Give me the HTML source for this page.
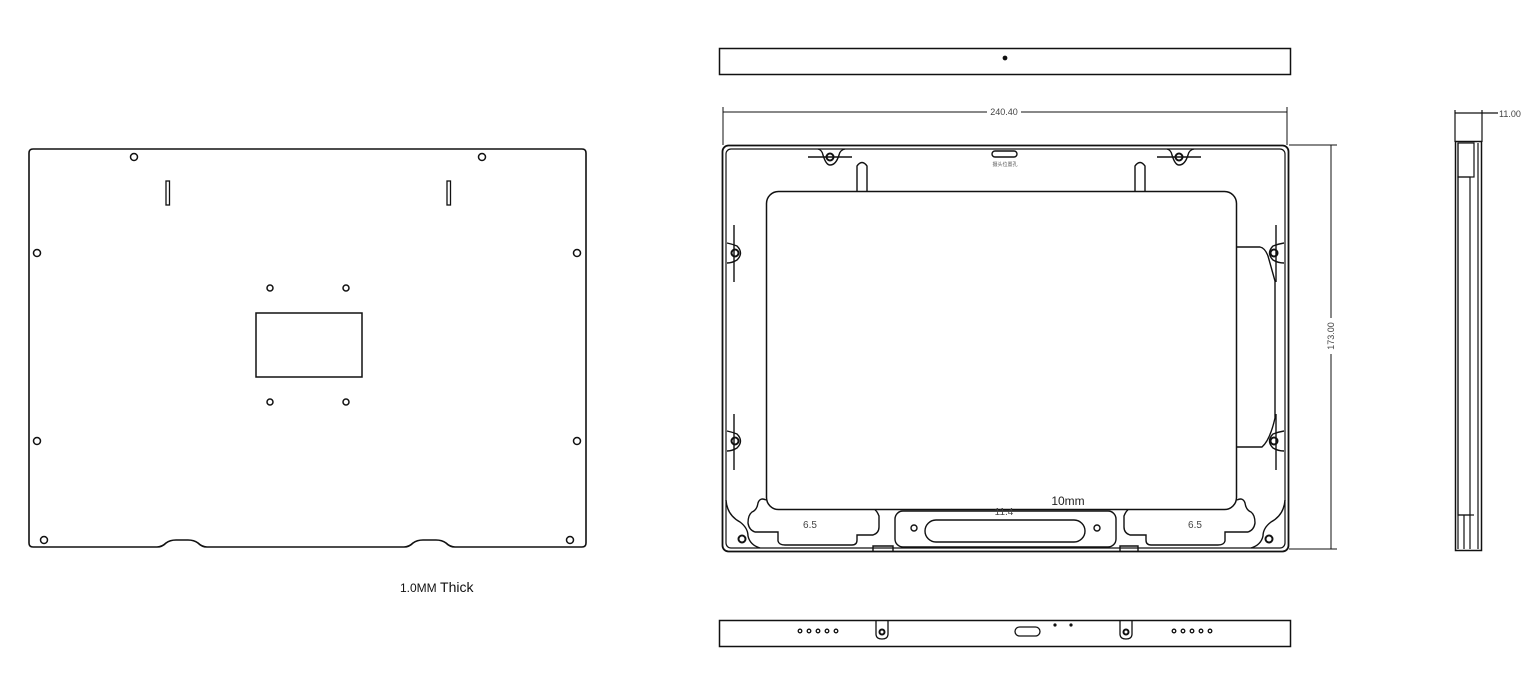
<!DOCTYPE html>
<html><head><meta charset="utf-8"><style>
html,body{margin:0;padding:0;background:#fff;}
svg{display:block;}
text{font-family:"Liberation Sans","Noto Sans CJK SC",sans-serif;}
</style></head><body>
<svg width="1523" height="688" viewBox="0 0 1523 688" xmlns="http://www.w3.org/2000/svg" fill="none" stroke="#111" stroke-width="1.6">
<!-- LEFT PLATE -->
<path d="M33,149 H582 Q586,149 586,153 V543 Q586,547 582,547 H455 Q450,547 446,543 Q442,540 436,540 H423 Q417,540 413,543 Q409,547 404,547 H207 Q202,547 198,543 Q194,540 188,540 H176 Q170,540 166,543 Q162,547 157,547 H33 Q29,547 29,543 V153 Q29,149 33,149 Z"/>
<g stroke-width="1.5">
<circle cx="134" cy="157" r="3.5"/><circle cx="482" cy="157" r="3.5"/>
<circle cx="37" cy="253" r="3.5"/><circle cx="577" cy="253" r="3.5"/>
<circle cx="37" cy="441" r="3.5"/><circle cx="577" cy="441" r="3.5"/>
<circle cx="44" cy="540" r="3.5"/><circle cx="570" cy="540" r="3.5"/>
<circle cx="270" cy="288" r="3"/><circle cx="346" cy="288" r="3"/>
<circle cx="270" cy="402" r="3"/><circle cx="346" cy="402" r="3"/>
</g>
<rect x="166" y="181" width="3.5" height="24" stroke-width="1.3"/>
<rect x="447" y="181" width="3.5" height="24" stroke-width="1.3"/>
<rect x="256" y="313" width="106" height="64" stroke-width="1.5"/>
<text x="400" y="592" font-size="12" fill="#111" stroke="none">1.0MM <tspan font-size="14">Thick</tspan></text>

<!-- TOP STRIP -->
<rect x="719.5" y="48.5" width="571" height="26" stroke-width="1.5"/>
<circle cx="1005" cy="58" r="1.6" fill="#111"/>

<!-- DIMENSIONS -->
<g stroke-width="1">
<line x1="723" y1="107" x2="723" y2="145"/><line x1="1287" y1="107" x2="1287" y2="145"/>
<line x1="723" y1="112" x2="987" y2="112"/><line x1="1021" y1="112" x2="1287" y2="112"/>
<line x1="1289" y1="145" x2="1337" y2="145"/><line x1="1289" y1="549" x2="1337" y2="549"/>
<line x1="1331" y1="145" x2="1331" y2="318"/><line x1="1331" y1="354" x2="1331" y2="549"/>
</g>
<text x="1004" y="115" font-size="9" fill="#444" stroke="none" text-anchor="middle">240.40</text>
<text transform="translate(1334,336) rotate(-90)" font-size="9" fill="#444" stroke="none" text-anchor="middle">173.00</text>

<!-- FRONT VIEW -->
<rect x="722.5" y="145.5" width="566" height="406" rx="6" stroke-width="1.8"/>
<rect x="726" y="149" width="559" height="399" rx="5" stroke-width="1.2"/>
<rect x="766.5" y="191.5" width="470" height="318" rx="12" stroke-width="1.5"/>
<path d="M857,191 V166 Q862,159 867,166 V191" stroke-width="1.4"/>
<path d="M1135,191 V166 Q1140,159 1145,166 V191" stroke-width="1.4"/>
<g stroke-width="1.4">
<line x1="808" y1="157" x2="852" y2="157"/><path d="M818,149 Q822,150 823,155 Q826,165 830,165 Q836,165 839,155 Q840,150 845,149"/>
<circle cx="830" cy="157" r="3.5" stroke-width="2"/>
<line x1="1157" y1="157" x2="1201" y2="157"/><path d="M1167,149 Q1171,150 1172,155 Q1175,165 1179,165 Q1185,165 1188,155 Q1189,150 1194,149"/>
<circle cx="1179" cy="157" r="3.5" stroke-width="2"/>
</g>
<rect x="992" y="151" width="25" height="6" rx="3" stroke-width="1.4"/>
<text x="1005" y="166" font-size="5" fill="#555" stroke="none" text-anchor="middle">摄头位置孔</text>
<g stroke-width="1.4">
<line x1="734" y1="225" x2="734" y2="282"/><path d="M727,243 Q732,244 737,246 Q744,253 737,260 Q732,263 727,263"/>
<circle cx="735" cy="253" r="3.5" stroke-width="2"/>
<line x1="734" y1="414" x2="734" y2="470"/><path d="M727,431 Q732,432 737,434 Q744,441 737,448 Q732,451 727,451"/>
<circle cx="735" cy="441" r="3.5" stroke-width="2"/>
<line x1="1276" y1="225" x2="1276" y2="282"/><path d="M1284,243 Q1278,244 1273,246 Q1266,253 1273,260 Q1278,263 1284,263"/>
<circle cx="1274" cy="253" r="3.5" stroke-width="2"/>
<line x1="1276" y1="414" x2="1276" y2="470"/><path d="M1284,431 Q1278,432 1273,434 Q1266,441 1273,448 Q1278,451 1284,451"/>
<circle cx="1274" cy="441" r="3.5" stroke-width="2"/>
<path d="M1237,247 H1260 Q1265,248 1268,256 L1275,281 V418 Q1270,440 1262,447 H1237"/>
</g>
<g stroke-width="1.4">
<path d="M766,500 Q760,497 758,503 Q757,510 752,512 Q748,515 748,523 Q749,530 755,532 H778 V541 Q779,545 785,545 H852 Q857,545 857,540 V535 H873 Q879,533 879,527 V516 Q877,511 875,510"/>
<path d="M1237,500 Q1243,497 1245,503 Q1246,510 1251,512 Q1255,515 1255,523 Q1254,530 1248,532 H1225 V541 Q1224,545 1218,545 H1151 Q1146,545 1146,540 V535 H1130 Q1124,533 1124,527 V516 Q1126,511 1128,510"/>
<path d="M726,500 Q727,515 740,522 Q748,528 748,536 Q750,545 760,548"/>
<path d="M1285,500 Q1284,515 1271,522 Q1263,528 1263,536 Q1261,545 1251,548"/>
<rect x="895" y="511" width="221" height="36" rx="8"/>
<rect x="925" y="520" width="160" height="22" rx="11"/>
<circle cx="914" cy="528" r="3"/><circle cx="1097" cy="528" r="3"/>
<path d="M873,551 V546 H893 V551"/><path d="M1120,551 V546 H1138 V551"/>
</g>
<circle cx="742" cy="539" r="3.5" stroke-width="2"/>
<circle cx="1269" cy="539" r="3.5" stroke-width="2"/>
<text x="810" y="528" font-size="10" fill="#444" stroke="none" text-anchor="middle">6.5</text>
<text x="1195" y="528" font-size="10" fill="#444" stroke="none" text-anchor="middle">6.5</text>
<text x="1068" y="505" font-size="12" fill="#222" stroke="none" text-anchor="middle">10mm</text>
<text x="1004" y="515" font-size="10" fill="#444" stroke="none" text-anchor="middle">11.4</text>

<!-- SIDE VIEW -->
<g stroke-width="1.2">
<line x1="1455" y1="110" x2="1455" y2="142"/><line x1="1482" y1="110" x2="1482" y2="142"/>
<line x1="1455" y1="113" x2="1498" y2="113"/>
<rect x="1455.5" y="141.5" width="26" height="409" stroke-width="1.5"/>
<line x1="1458" y1="143" x2="1458" y2="549"/>
<line x1="1478" y1="143" x2="1478" y2="549"/>
<rect x="1458" y="143" width="16" height="34"/>
<rect x="1458" y="177" width="12" height="338"/>
<line x1="1458" y1="515" x2="1474" y2="515"/>
<line x1="1464" y1="515" x2="1464" y2="549"/>
<line x1="1470" y1="515" x2="1470" y2="549"/>
</g>
<text x="1499" y="117" font-size="9" fill="#444" stroke="none">11.00</text>

<!-- BOTTOM STRIP -->
<rect x="719.5" y="620.5" width="571" height="26" stroke-width="1.5"/>
<g stroke-width="1.3">
<circle cx="800" cy="631" r="1.8"/><circle cx="809" cy="631" r="1.8"/><circle cx="818" cy="631" r="1.8"/><circle cx="827" cy="631" r="1.8"/><circle cx="836" cy="631" r="1.8"/>
<circle cx="1174" cy="631" r="1.8"/><circle cx="1183" cy="631" r="1.8"/><circle cx="1192" cy="631" r="1.8"/><circle cx="1201" cy="631" r="1.8"/><circle cx="1210" cy="631" r="1.8"/>
<path d="M876,621 V634 Q876,639 882,639 Q888,639 888,634 V621"/>
<path d="M1120,621 V634 Q1120,639 1126,639 Q1132,639 1132,634 V621"/>
<rect x="1015" y="627" width="25" height="9" rx="4.5"/>
</g>
<circle cx="882" cy="632" r="2.5" stroke-width="2"/>
<circle cx="1126" cy="632" r="2.5" stroke-width="2"/>
<circle cx="1055" cy="625" r="1.6" fill="#111" stroke="none"/>
<circle cx="1071" cy="625" r="1.6" fill="#111" stroke="none"/>
</svg>
</body></html>
